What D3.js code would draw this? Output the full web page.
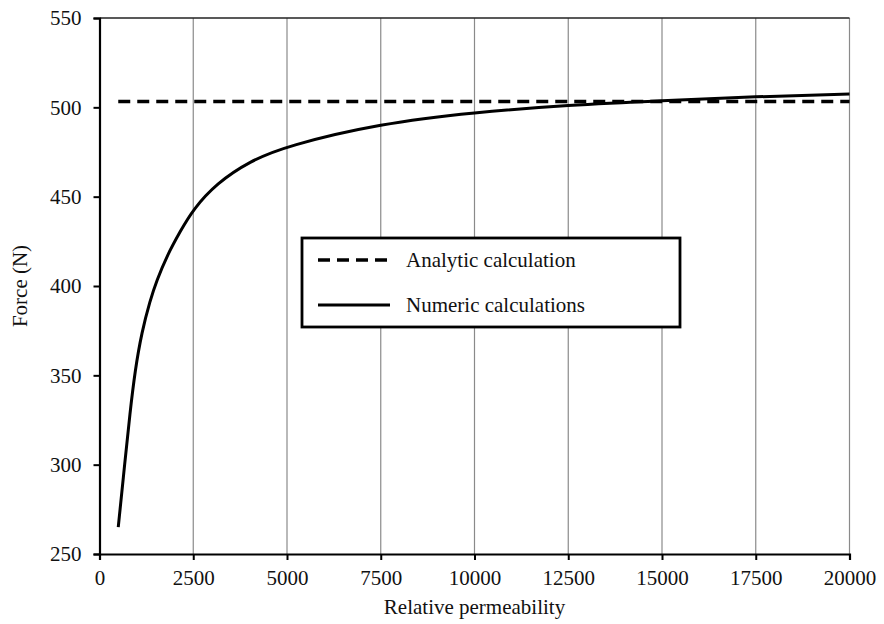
<!DOCTYPE html>
<html lang="en">
<head>
<meta charset="UTF-8">
<title>Force vs relative permeability</title>
<script src="https://d3js.org/d3.v7.min.js"></script>
<style>
  body { margin: 0; background: #fff; }
  svg text { font-family: "Liberation Serif", "DejaVu Serif", serif; fill: #111; }
</style>
</head>
<body>
<svg width="884" height="624"></svg>
<script>
// numeric calculation
const permeability = [500, 680, 810, 950, 1125, 1350, 1525, 1800, 2150, 2500, 3125, 4000, 5000, 7500, 10000, 12500, 15000, 17500, 20000];
const numericForce = [265, 302, 328.5, 353, 374, 392, 403, 417, 430.5, 443, 457.5, 469.8, 478.5, 491, 497.2, 501.3, 503.8, 506, 507.5];
// analytic result is a constant
const analyticRange = [500, 20000];
const analyticForce = 503.3;

const xTicks = [0, 2500, 5000, 7500, 10000, 12500, 15000, 17500, 20000];
const yTicks = [250, 300, 350, 400, 450, 500, 550];
const legendLabels = ["Analytic calculation", "Numeric calculations"];

const svg = d3.select("svg");
const m = {left: 99.5, right: 849.5, top: 18, bottom: 554};

const x = d3.scaleLinear().domain([0, 20000]).range([m.left, m.right]);
const y = d3.scaleLinear().domain([250, 550]).range([m.bottom, m.top]);

// vertical grid lines
svg.append("g")
  .selectAll("line")
  .data(xTicks.slice(1))
  .join("line")
  .attr("x1", d => x(d)).attr("x2", d => x(d))
  .attr("y1", m.top).attr("y2", m.bottom)
  .attr("stroke", "#8a8a8a")
  .attr("stroke-width", 1.2);

// top border
svg.append("line")
  .attr("x1", m.left).attr("x2", m.right)
  .attr("y1", m.top).attr("y2", m.top)
  .attr("stroke", "#222").attr("stroke-width", 1.5);

// axes
const xAxis = svg.append("g")
  .attr("transform", `translate(0,${m.bottom})`)
  .call(d3.axisBottom(x).tickValues(xTicks).tickSize(6).tickPadding(10).tickFormat(d3.format("d")));
const yAxis = svg.append("g")
  .attr("transform", `translate(${m.left},0)`)
  .call(d3.axisLeft(y).tickValues(yTicks).tickSize(6).tickPadding(12));

[xAxis, yAxis].forEach(a => {
  a.select(".domain").attr("stroke", "#000").attr("stroke-width", 2.2);
  a.selectAll(".tick line").attr("stroke", "#000").attr("stroke-width", 2);
  a.selectAll(".tick text")
    .attr("font-family", "Liberation Serif, serif")
    .attr("font-size", 21)
    .attr("fill", "#111");
});

// axis titles
svg.append("text")
  .attr("x", (m.left + m.right) / 2).attr("y", 614)
  .attr("text-anchor", "middle")
  .attr("font-size", 21)
  .text("Relative permeability");

svg.append("text")
  .attr("transform", `translate(27,${(m.top + m.bottom) / 2}) rotate(-90)`)
  .attr("text-anchor", "middle")
  .attr("font-size", 21)
  .text("Force (N)");

// analytic line (dashed)
svg.append("path")
  .datum(analyticRange)
  .attr("d", d3.line().x(d => x(d)).y(() => y(analyticForce)))
  .attr("fill", "none")
  .attr("stroke", "#000")
  .attr("stroke-width", 3.5)
  .attr("stroke-dasharray", "12,7");

// numeric curve
const pts = permeability.map((p, i) => [p, numericForce[i]]);
svg.append("path")
  .datum(pts)
  .attr("d", d3.line().x(d => x(d[0])).y(d => y(d[1])).curve(d3.curveBasis))
  .attr("fill", "none")
  .attr("stroke", "#000")
  .attr("stroke-width", 3);

// legend
const lg = svg.append("g");
lg.append("rect")
  .attr("x", 302).attr("y", 238)
  .attr("width", 378).attr("height", 89)
  .attr("fill", "#fff")
  .attr("stroke", "#000")
  .attr("stroke-width", 2.8);

const legendRows = lg.selectAll("g.row")
  .data(legendLabels)
  .join("g")
  .attr("class", "row")
  .attr("transform", (d, i) => `translate(0,${260 + i * 45})`);

legendRows.append("line")
  .attr("x1", 318).attr("x2", 390)
  .attr("y1", 0).attr("y2", 0)
  .attr("stroke", "#000")
  .attr("stroke-width", (d, i) => i === 0 ? 3.5 : 3)
  .attr("stroke-dasharray", (d, i) => i === 0 ? "12,7" : null);

legendRows.append("text")
  .attr("x", 406).attr("y", 0)
  .attr("dy", "0.35em")
  .attr("font-size", 21)
  .text(d => d);
</script>
</body>
</html>
